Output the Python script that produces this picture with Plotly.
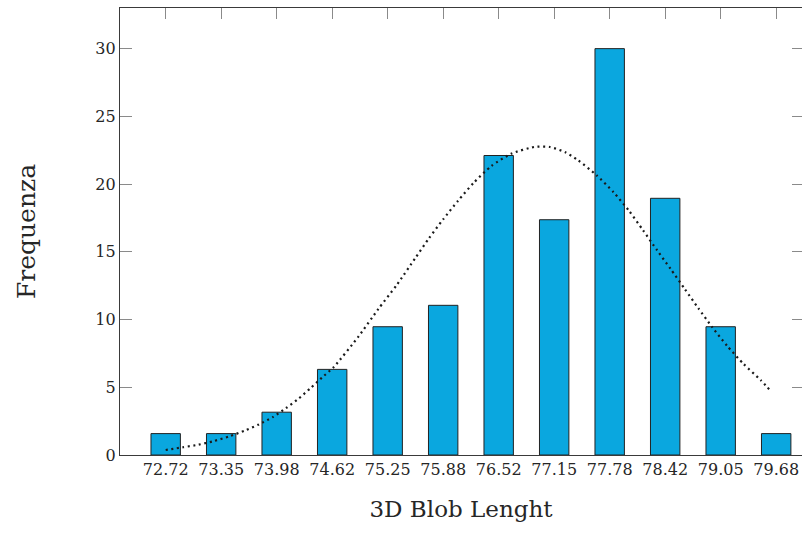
import plotly.graph_objects as go

categories = ["72.72", "73.35", "73.98", "74.62", "75.25", "75.88",
              "76.52", "77.15", "77.78", "78.42", "79.05", "79.68"]
frequencies = [1.58, 1.58, 3.16, 6.32, 9.47, 11.05, 22.11, 17.37, 30.0, 18.95, 9.47, 1.58]

# fitted curve (x in category-index units)
curve_x = [0.0, 0.31, 0.59, 0.87, 1.15, 1.42, 1.68, 1.93, 2.17, 2.40, 2.61, 2.82,
           3.03, 3.48, 3.83, 4.17, 4.50, 4.74, 5.00, 5.27, 5.55, 5.87, 6.23, 6.64,
           6.92, 7.20, 7.43, 7.77, 8.07, 8.35, 8.60, 8.85, 9.10, 9.35, 9.60, 9.85,
           10.12, 10.41, 10.72, 10.92]
curve_y = [0.37, 0.57, 0.76, 1.03, 1.38, 1.79, 2.26, 2.80, 3.47, 4.18, 4.94, 5.73,
           6.50, 8.78, 10.77, 12.59, 14.55, 15.98, 17.40, 18.78, 20.10, 21.34, 22.25, 22.74,
           22.74, 22.35, 21.76, 20.63, 19.40, 18.02, 16.60, 15.14, 13.72, 12.27, 10.82, 9.42,
           8.04, 6.73, 5.53, 4.65]

y_ticks = [0, 5, 10, 15, 20, 25, 30]

idx = list(range(len(categories)))
FONT = "DejaVu Serif"
TXT = "#262626"

fig = go.Figure()
fig.add_trace(go.Bar(
    x=idx, y=frequencies, width=0.53,
    marker=dict(color="#0AA7DF", line=dict(color="#222222", width=1)),
    showlegend=False, hoverinfo="skip",
))
fig.add_trace(go.Scatter(
    x=curve_x, y=curve_y, mode="lines",
    line=dict(color="#1a1a1a", width=2.2, dash="2px,3.6px", shape="spline", smoothing=0.6),
    showlegend=False, hoverinfo="skip",
))
# invisible trace to activate right-side tick axis
fig.add_trace(go.Scatter(x=[0], y=[0], yaxis="y2", mode="markers",
                         marker=dict(opacity=0), showlegend=False, hoverinfo="skip"))

fig.update_layout(
    width=802, height=533,
    margin=dict(l=120, r=0, t=8, b=78),
    paper_bgcolor="white", plot_bgcolor="white",
    font=dict(family=FONT, size=16, color=TXT),
    xaxis=dict(
        range=[-0.823, 11.465],
        tickmode="array", tickvals=idx, ticktext=categories,
        ticks="inside", ticklen=11, tickcolor="#8a8a8a", tickwidth=1,
        showline=True, linecolor="#3a3a3a", linewidth=1.2, mirror="ticks",
        showgrid=False, zeroline=False, layer="below traces",
        tickfont=dict(family=FONT, size=16, color=TXT),
        title=dict(text="3D Blob Lenght", font=dict(family=FONT, size=23, color=TXT), standoff=22),
    ),
    yaxis=dict(
        range=[0, 33],
        tickmode="array", tickvals=y_ticks,
        ticks="inside", ticklen=12, tickcolor="#8a8a8a", tickwidth=1,
        showline=True, linecolor="#3a3a3a", linewidth=1.2, mirror=False,
        showgrid=False, zeroline=False, layer="below traces",
        tickfont=dict(family=FONT, size=16, color=TXT),
        title=dict(text="Frequenza", font=dict(family=FONT, size=25, color=TXT), standoff=52),
    ),
    yaxis2=dict(
        range=[0, 33], overlaying="y", side="right",
        tickmode="array", tickvals=y_ticks,
        ticks="inside", ticklen=10, tickcolor="#8a8a8a", tickwidth=1,
        showticklabels=False, showline=False, showgrid=False, zeroline=False,
    ),
)

fig.write_html("out.html")
